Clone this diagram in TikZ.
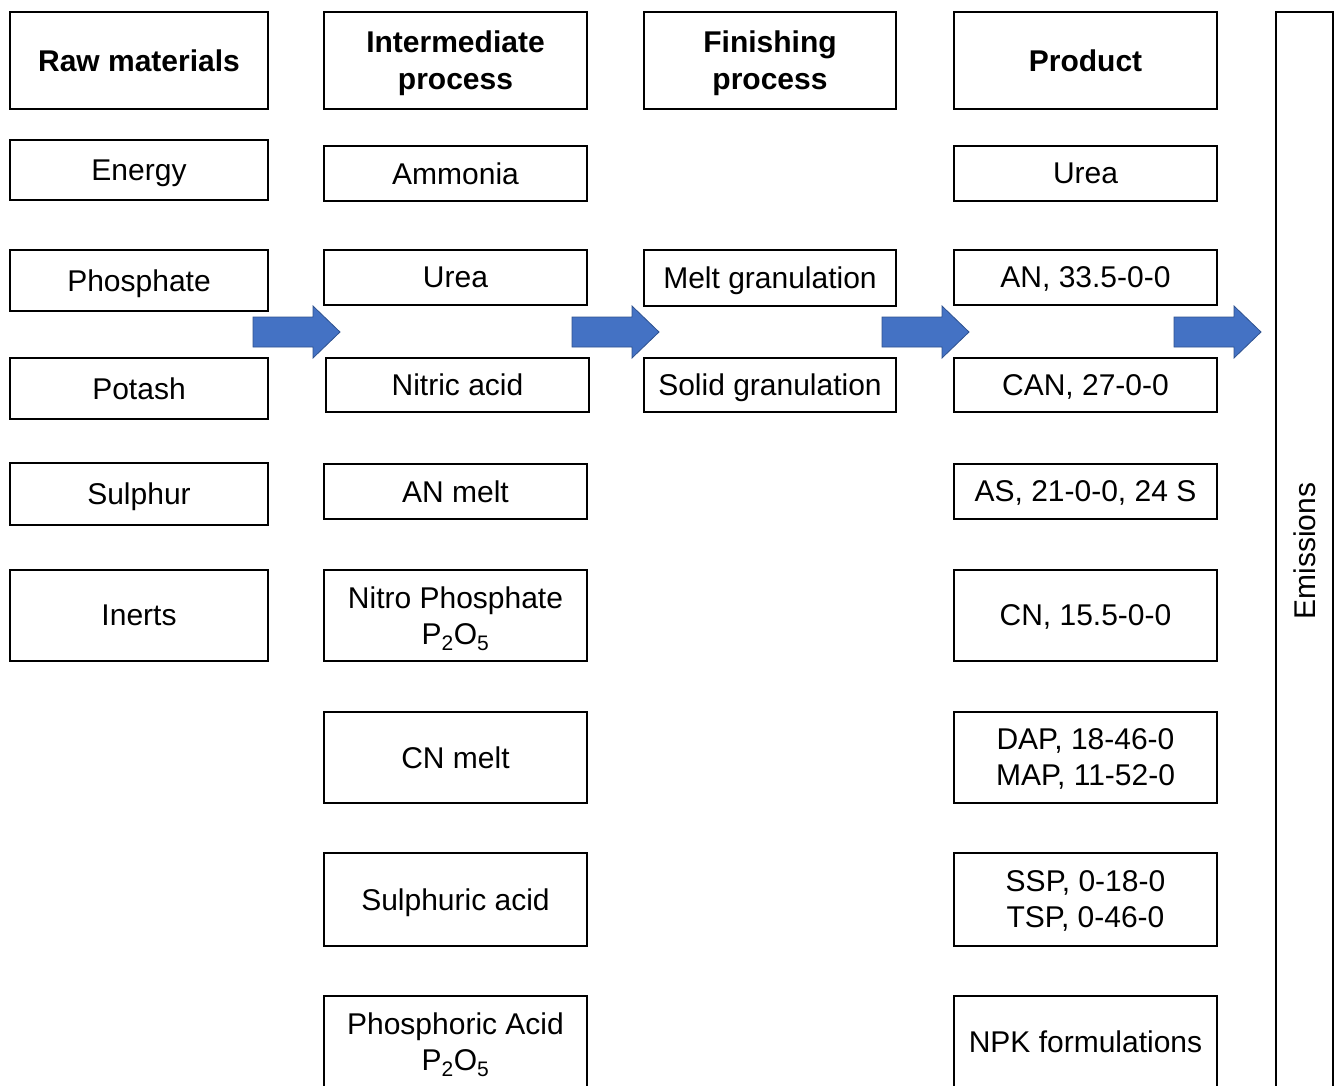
\documentclass[tikz,border=0pt]{standalone}
\usepackage{fontspec}
\setmainfont{Liberation Sans}
\definecolor{arrowblue}{RGB}{68,114,196}
\definecolor{arrowedge}{RGB}{47,82,143}

\begin{document}
\begin{tikzpicture}[x=1pt,y=-1pt,
  box/.style={draw,line width=2.2pt,align=center,inner sep=0pt,text depth=0pt,
    font=\fontsize{30}{36}\selectfont},
  head/.style={box,minimum height=97,font=\fontsize{30}{37}\selectfont\bfseries},
  rawcol/.style={minimum width=258},
  midcol/.style={minimum width=263},
  fincol/.style={minimum width=252},
  prodcol/.style={minimum width=263},
  bluearrow/.pic={\filldraw[fill=arrowblue,draw=arrowedge,line width=0.8pt]
    (0,-15) -- (60,-15) -- (60,-26) -- (87,0) -- (60,26) -- (60,15) -- (0,15) -- cycle;}]
\clip (0,0) rectangle (1335,1085);

\node[head,rawcol] (rawhead) at (139,60.5) {Raw materials};
\node[head,midcol] (midhead) at (455.5,60.5) {Intermediate\\process};
\node[head,fincol] (finhead) at (770,60.5) {Finishing\\process};
\node[head,prodcol] (prodhead) at (1085.5,60.5) {Product};

\node[box,rawcol,minimum height=60] (energy) at (139,170) {Energy};
\node[box,rawcol,minimum height=61] (phosphate) at (139,280.5) {Phosphate};
\node[box,rawcol,minimum height=61] (potash) at (139,388.5) {Potash};
\node[box,rawcol,minimum height=62] (sulphur) at (139,494) {Sulphur};
\node[box,rawcol,minimum height=91] (inerts) at (139,615.5) {Inerts};

\node[box,midcol,minimum height=55] (ammonia) at (455.5,173.5) {Ammonia};
\node[box,midcol,minimum height=55] (ureamid) at (455.5,277.5) {Urea};
\node[box,midcol,minimum height=54] (nitric) at (457.5,385) {Nitric acid};
\node[box,midcol,minimum height=55] (anmelt) at (455.5,491.5) {AN melt};
\node[box,midcol,minimum height=91] (nitrophos) at (455.5,615.5) {Nitro Phosphate\\P\textsubscript{2}O\textsubscript{5}};
\node[box,midcol,minimum height=91] (cnmelt) at (455.5,757.5) {CN melt};
\node[box,midcol,minimum height=93] (sulphuric) at (455.5,899.5) {Sulphuric acid};
\node[box,midcol,minimum height=92] (phosphoric) at (455.5,1042) {Phosphoric Acid\\P\textsubscript{2}O\textsubscript{5}};

\node[box,fincol,minimum height=56] (meltgran) at (770,278) {Melt granulation};
\node[box,fincol,minimum height=54] (solidgran) at (770,385) {Solid granulation};

\node[box,prodcol,minimum height=55] (urea) at (1085.5,173.5) {Urea};
\node[box,prodcol,minimum height=55] (an) at (1085.5,277.5) {AN, 33.5-0-0};
\node[box,prodcol,minimum height=54] (can) at (1085.5,385) {CAN, 27-0-0};
\node[box,prodcol,minimum height=55] (as) at (1085.5,491.5) {AS, 21-0-0, 24 S};
\node[box,prodcol,minimum height=91] (cn) at (1085.5,615.5) {CN, 15.5-0-0};
\node[box,prodcol,minimum height=91] (dap) at (1085.5,757.5) {DAP, 18-46-0\\MAP, 11-52-0};
\node[box,prodcol,minimum height=93] (ssp) at (1085.5,899.5) {SSP, 0-18-0\\TSP, 0-46-0};
\node[box,prodcol,minimum height=92] (npk) at (1085.5,1042) {NPK formulations};

\node[box,minimum width=57,minimum height=1078] (emissions) at (1304.5,551) {};
\node[font=\fontsize{30}{36}\selectfont,rotate=90,text depth=0pt] (emtext) at (emissions.center) {Emissions};

\pic at (253,332) {bluearrow};
\pic at (572,332) {bluearrow};
\pic at (882,332) {bluearrow};
\pic at (1174,332) {bluearrow};
\end{tikzpicture}
\end{document}
